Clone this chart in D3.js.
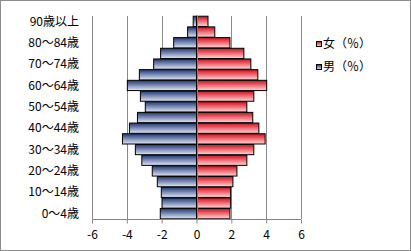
<!DOCTYPE html>
<html>
<head>
<meta charset="utf-8">
<script src="https://cdn.jsdelivr.net/npm/d3@7"></script>
<style>
  html, body { margin: 0; padding: 0; background: #fff; }
  svg text { font-family: "Noto Sans CJK JP", "DejaVu Sans", sans-serif; fill: #000; }
</style>
</head>
<body>
<svg id="chart"></svg>
<script>
// age groups, bottom to top
const ages = ["0～4歳", "5～9歳", "10～14歳", "15～19歳", "20～24歳", "25～29歳", "30～34歳",
  "35～39歳", "40～44歳", "45～49歳", "50～54歳", "55～59歳", "60～64歳", "65～69歳",
  "70～74歳", "75～79歳", "80～84歳", "85～89歳", "90歳以上"];
const male = [2.08, 1.98, 2.02, 2.25, 2.54, 3.14, 3.51, 4.25, 3.85, 3.39,
  2.94, 3.22, 3.97, 3.28, 2.46, 2.06, 1.31, 0.51, 0.19];
const female = [1.92, 1.96, 1.96, 2.09, 2.32, 2.89, 3.29, 3.94, 3.58, 3.23,
  2.89, 3.29, 4.03, 3.52, 3.12, 2.72, 1.92, 1.05, 0.66];
const xTicks = [-6, -4, -2, 0, 2, 4, 6];
const legendNames = ["女（％）", "男（％）"];

const width = 411, height = 251;
const svg = d3.select("#chart").attr("width", width).attr("height", height);

const x = d3.scaleLinear().domain([-6, 6]).range([92, 301]);
const y = d3.scaleBand().domain(ages.slice().reverse()).range([16, 219]).paddingInner(0.04).paddingOuter(0.02);

// gradients
const defs = svg.append("defs");
function grad(id, c1, c2) {
    const g = defs.append("linearGradient").attr("id", id)
        .attr("x1", 0).attr("y1", 0).attr("x2", 0).attr("y2", 1);
    g.append("stop").attr("offset", "0%").attr("stop-color", c1);
    g.append("stop").attr("offset", "100%").attr("stop-color", c2);
}
grad("gBlue", "#1c3676", "#e2e7f2");
grad("gRed", "#d80a16", "#f9dadd");

// outer border
svg.append("rect").attr("x", 0.5).attr("y", 0.5).attr("width", width - 1).attr("height", height - 1)
    .attr("fill", "#fff").attr("stroke", "#8c8c8c");

// gridlines
svg.append("g").selectAll("line")
    .data(xTicks)
    .enter().append("line")
    .attr("x1", d => Math.round(x(d)) + 0.5).attr("x2", d => Math.round(x(d)) + 0.5)
    .attr("y1", 16).attr("y2", 219)
    .attr("stroke", "#8a8a8a");

// bars
const bars = svg.append("g");
bars.selectAll(".m")
    .data(ages)
    .enter().append("rect")
    .attr("x", (d, i) => x(-male[i]))
    .attr("y", d => y(d))
    .attr("width", (d, i) => x(0) - x(-male[i]))
    .attr("height", y.bandwidth())
    .attr("fill", "url(#gBlue)")
    .attr("stroke", "#000").attr("stroke-width", 1);

bars.selectAll(".f")
    .data(ages)
    .enter().append("rect")
    .attr("x", x(0))
    .attr("y", d => y(d))
    .attr("width", (d, i) => x(female[i]) - x(0))
    .attr("height", y.bandwidth())
    .attr("fill", "url(#gRed)")
    .attr("stroke", "#000").attr("stroke-width", 1);

// zero axis
const x0 = Math.round(x(0)) + 0.5;
svg.append("line").attr("x1", x0).attr("x2", x0).attr("y1", 16).attr("y2", 219).attr("stroke", "#868686");

// bottom axis
const axis = svg.append("g").attr("transform", "translate(0,219.5)")
    .call(d3.axisBottom(x).tickValues(xTicks).tickSize(4).tickPadding(7).tickFormat(d3.format("d")));
axis.select(".domain").attr("stroke", "#868686").attr("d", `M${x(-6)},0H${x(6)}`);
axis.selectAll(".tick line").attr("stroke", "#868686");
axis.selectAll("text").attr("font-size", 12).attr("font-family", "'Noto Sans CJK JP', sans-serif")
    .text(d => d < 0 ? "-" + Math.abs(d) : d);

// category labels (every other)
svg.append("g").selectAll("text")
    .data(ages.filter((d, i) => i % 2 === 0))
    .enter().append("text")
    .attr("x", 79)
    .attr("y", d => y(d) + y.bandwidth() / 2)
    .attr("dy", "0.35em")
    .attr("text-anchor", "end")
    .attr("font-size", 12)
    .text(d => d);

// legend
const legend = svg.append("g");
legendNames.forEach((name, i) => {
    const ly = 44 + i * 23;
    legend.append("rect").attr("x", 316.5).attr("y", ly - 2.5).attr("width", 5).attr("height", 5)
        .attr("fill", i === 0 ? "url(#gRed)" : "url(#gBlue)")
        .attr("stroke", "#000");
    legend.append("text").attr("x", 323).attr("y", ly).attr("dy", "0.35em")
        .attr("font-size", 12).text(name);
});
</script>
</body>
</html>
